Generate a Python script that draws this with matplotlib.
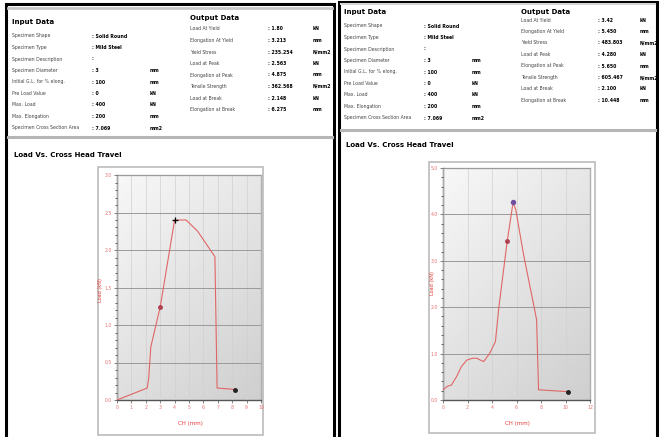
import numpy as np
import matplotlib.pyplot as plt
from matplotlib.patches import Rectangle
from matplotlib.ticker import MultipleLocator

W, H = 660, 437

# ---- report text ----
in_labels = ['Specimen Shape', 'Specimen Type', 'Specimen Description', 'Specimen Diameter',
             'Initial G.L. for % elong.', 'Pre Load Value', 'Max. Load', 'Max. Elongation',
             'Specimen Cross Section Area']
in_units = ['', '', '', 'mm', 'mm', 'kN', 'kN', 'mm', 'mm2']
left_in_values = ['Solid Round', 'Mild Steel', '', '3', '100', '0', '400', '200', '7.069']
right_in_values = ['Solid Round', 'Mild Steel', '', '3', '100', '0', '400', '200', '7.069']

out_labels = ['Load At Yield', 'Elongation At Yield', 'Yield Stress', 'Load at Peak',
              'Elongation at Peak', 'Tensile Strength', 'Load at Break', 'Elongation at Break']
out_units = ['kN', 'mm', 'N/mm2', 'kN', 'mm', 'N/mm2', 'kN', 'mm']
left_out_values = ['1.80', '3.213', '235.254', '2.563', '4.875', '362.568', '2.148', '6.275']
right_out_values = ['3.42', '5.450', '483.803', '4.280', '5.650', '605.467', '2.100', '10.448']

# ---- curves (x = cross head travel, y = load) ----
left_x = [0, 2.1, 2.2, 2.35, 3.0, 4.0, 4.8, 5.6, 6.8, 6.95, 8.2]
left_y = [0, 0.16, 0.29, 0.71, 1.24, 2.40, 2.40, 2.25, 1.91, 0.16, 0.14]
left_marks_x = [3.0, 4.0, 8.2]
left_marks_y = [1.24, 2.40, 0.14]

right_x = [0, 0.4, 0.68, 1.1, 1.5, 1.94, 2.4, 2.76, 3.05, 3.32, 3.8, 4.28, 4.56,
           5.24, 5.72, 5.94, 6.6, 7.32, 7.64, 7.8, 10.2]
right_y = [0.22, 0.3, 0.32, 0.5, 0.72, 0.86, 0.9, 0.9, 0.86, 0.83, 1.0, 1.26, 2.0,
           3.42, 4.26, 4.1, 3.1, 2.16, 1.73, 0.22, 0.18]
right_marks_x = [5.24, 5.72, 10.2]
right_marks_y = [3.42, 4.26, 0.18]

fig = plt.figure(figsize=(W / 100, H / 100), dpi=100)
fig.patch.set_facecolor('white')

FS = 3.3


def fx(x):
    return x / W


def fy(y):
    return 1 - y / H


def frect(x0, y0, x1, y1, **kw):
    fig.add_artist(Rectangle((fx(x0), fy(y1)), fx(x1 - x0), (y1 - y0) / H,
                             transform=fig.transFigure, **kw))


def hline(x0, x1, y, color, lw):
    fig.add_artist(plt.Line2D([fx(x0), fx(x1)], [fy(y), fy(y)],
                              transform=fig.transFigure, color=color, lw=lw))


def header(x0, y_head, y_row0, dy, col2, col3, ox, oy_head, oy_row0, ocol2, ocol3,
           in_vals, out_vals):
    fig.text(fx(x0), fy(y_head), 'Input Data', fontsize=5, fontweight='bold', va='center')
    for i, lab in enumerate(in_labels):
        y = fy(y_row0 + i * dy)
        fig.text(fx(x0), y, lab, fontsize=FS, va='center', color='#444444')
        fig.text(fx(col2), y, ': ' + in_vals[i], fontsize=FS, va='center', fontweight='bold')
        fig.text(fx(col3), y, in_units[i], fontsize=FS, va='center', fontweight='bold')
    fig.text(fx(ox), fy(oy_head), 'Output Data', fontsize=5, fontweight='bold', va='center')
    for i, lab in enumerate(out_labels):
        y = fy(oy_row0 + i * dy)
        fig.text(fx(ox), y, lab, fontsize=FS, va='center', color='#444444')
        fig.text(fx(ocol2), y, ': ' + out_vals[i], fontsize=FS, va='center', fontweight='bold')
        fig.text(fx(ocol3), y, out_units[i], fontsize=FS, va='center', fontweight='bold')


def chart(box, axbox, xs, ys, mx, my, xmax, xstep, ymax, ystep, ylab_xy, xlab_xy, fmt):
    bx0, by0, bx1, by1 = box
    frect(bx0, by0, bx1, by1, facecolor='white', edgecolor='#bbbbbb', lw=1.2, zorder=-1)
    x0, y0, x1, y1 = axbox
    ax = fig.add_axes([fx(x0), fy(y1), fx(x1 - x0), (y1 - y0) / H])
    ax.set_zorder(3)
    g = np.linspace(0, 1, 64)
    grad = 0.97 - 0.16 * (g[:, None] * 0.6 + g[None, :] * 0.4)
    ax.imshow(grad, cmap='gray', vmin=0, vmax=1, extent=[0, xmax, 0, ymax],
              aspect='auto', origin='upper', zorder=0)
    ax.set_xlim(0, xmax)
    ax.set_ylim(0, ymax)
    ax.xaxis.set_major_locator(MultipleLocator(xstep))
    ax.yaxis.set_major_locator(MultipleLocator(ystep))
    ax.yaxis.set_minor_locator(MultipleLocator(ystep / 5))
    ax.grid(True, axis='y', color='#9a9a9a', lw=0.7)
    ax.grid(True, axis='x', color='#d0d0d0', lw=0.5)
    ax.set_axisbelow(False)
    ax.tick_params(labelsize=3.3, colors='#555555', labelcolor='#e57373',
                   length=2, width=0.5, pad=1.5)
    ax.tick_params(which='minor', length=1.2, width=0.4)
    ax.yaxis.set_major_formatter(plt.FormatStrFormatter(fmt))
    for s in ['left', 'bottom']:
        ax.spines[s].set_color('#555555')
        ax.spines[s].set_linewidth(1.0)
    for s in ['top', 'right']:
        ax.spines[s].set_color('#b0b0b0')
        ax.spines[s].set_linewidth(1.0)
    ax.plot(xs, ys, color='#e06666', lw=0.8, zorder=3)
    ax.plot(mx[0], my[0], 'o', color='#b04050', ms=2.5, zorder=4)
    ax.plot(mx[1], my[1], '+', color='black', ms=4, mew=0.9, zorder=4)
    ax.plot(mx[2], my[2], 'o', color='#222222', ms=2.5, zorder=4)
    fig.text(fx(ylab_xy[0]), fy(ylab_xy[1]), 'Load (kN)', fontsize=3.6, color='#e53935',
             rotation=90, ha='center', va='center')
    fig.text(fx(xlab_xy[0]), fy(xlab_xy[1]), 'CH (mm)', fontsize=4.0, color='#e53935',
             ha='center', va='center')
    return ax


# ---- panel frames ----
frect(6, 4, 334, 440, facecolor='none', edgecolor='black', lw=2.2)
frect(339, 2, 657, 440, facecolor='none', edgecolor='black', lw=2.2)

# header separators
hline(8, 332, 8, '#c8c8c8', 2.0)
hline(8, 332, 137, '#b5b5b5', 2.2)
hline(341, 655, 4, '#d5d5d5', 1.5)
hline(341, 655, 130, '#b5b5b5', 2.2)

header(12, 22, 36, 11.5, 92, 150, 190, 18, 29, 268, 313, left_in_values, left_out_values)
header(344, 12, 26, 11.5, 424, 472, 521, 12, 20, 598, 640, right_in_values, right_out_values)

fig.text(fx(14), fy(155), 'Load Vs. Cross Head Travel', fontsize=5, fontweight='bold', va='center')
fig.text(fx(346), fy(145), 'Load Vs. Cross Head Travel', fontsize=5, fontweight='bold', va='center')

ax1 = chart((98, 167, 263, 435), (117, 175, 261, 400), left_x, left_y,
            left_marks_x, left_marks_y, 10, 1, 3.0, 0.5, (101, 290), (190, 423), '%.1f')
ax2 = chart((429, 162, 595, 433), (443, 168, 590, 400), right_x, right_y,
            right_marks_x, right_marks_y, 12, 2, 5.0, 1.0, (433, 283), (517, 423), '%.1f')
ax2.lines[2].set_color('#7050a0')
ax2.lines[2].set_marker('o')
ax2.lines[2].set_markersize(3)

fig.savefig('out.png', dpi=100, facecolor='white')
